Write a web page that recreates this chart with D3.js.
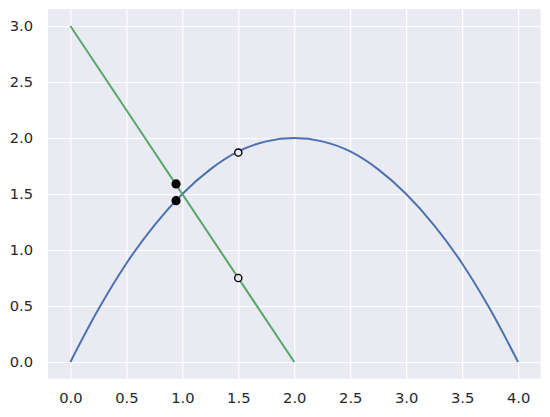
<!DOCTYPE html>
<html>
<head>
<meta charset="utf-8">
<script src="https://cdn.jsdelivr.net/npm/d3@7"></script>
<style>
  body { margin: 0; background: #fff; }
  text { font-family: "DejaVu Sans", sans-serif; font-size: 14.7px; fill: #262626; }
</style>
</head>
<body>
<div id="chart"></div>
<script>
// curve
var curveX = [0, 0.25, 0.5, 0.75, 1.0, 1.25, 1.5, 1.75, 2.0, 2.25, 2.5, 2.75, 3.0, 3.25, 3.5, 3.75, 4.0];
var curveY = [0, 0.47, 0.88, 1.22, 1.5, 1.72, 1.88, 1.97, 2.0, 1.97, 1.88, 1.72, 1.5, 1.22, 0.88, 0.47, 0];

// straight line
var lineX = [0, 2];
var lineY = [3, 0];

// filled markers (near the crossing)
var filledX = [0.944, 0.944];
var filledY = [1.59, 1.44];

// open markers
var openX = [1.5, 1.5];
var openY = [1.87, 0.75];

var xTicks = [0, 0.5, 1, 1.5, 2, 2.5, 3, 3.5, 4];
var yTicks = [0, 0.5, 1, 1.5, 2, 2.5, 3];

const w = 550;
const h = 417;
const mLeft = 48, mRight = 540.5, mTop = 9.2, mBottom = 378.8;

var svg = d3.select("#chart").append("svg")
  .attr("width", w)
  .attr("height", h);

var x = d3.scaleLinear().domain([-0.2, 4.2]).range([mLeft, mRight]);
var y = d3.scaleLinear().domain([-0.15, 3.15]).range([mBottom, mTop]);

// background
svg.append("rect")
  .attr("x", mLeft).attr("y", mTop)
  .attr("width", mRight - mLeft).attr("height", mBottom - mTop)
  .attr("fill", "#EAEAF2");

// grid + tick labels through the axis generators
var xAxis = svg.append("g")
  .attr("transform", "translate(0," + mBottom + ")")
  .call(d3.axisBottom(x).tickValues(xTicks).tickFormat(d3.format(".1f"))
    .tickSize(-(mBottom - mTop)).tickPadding(14));
var yAxis = svg.append("g")
  .attr("transform", "translate(" + mLeft + ",0)")
  .call(d3.axisLeft(y).tickValues(yTicks).tickFormat(d3.format(".1f"))
    .tickSize(-(mRight - mLeft)).tickPadding(15));

[xAxis, yAxis].forEach(function (a) {
  a.select(".domain").remove();
  a.selectAll(".tick line").attr("stroke", "#fff").attr("stroke-width", 1.2);
  a.selectAll(".tick text").attr("fill", "#262626")
    .style("font-family", "'DejaVu Sans', sans-serif").style("font-size", "14.7px");
});

svg.append("clipPath").attr("id", "clip")
  .append("rect").attr("x", mLeft).attr("y", mTop)
  .attr("width", mRight - mLeft).attr("height", mBottom - mTop);

var plot = svg.append("g").attr("clip-path", "url(#clip)");

var line = d3.line()
  .x(function (d) { return x(d[0]); })
  .y(function (d) { return y(d[1]); });

plot.append("path")
  .datum(d3.zip(curveX, curveY))
  .attr("d", line.curve(d3.curveMonotoneX))
  .attr("fill", "none")
  .attr("stroke", "#4C72B0")
  .attr("stroke-width", 2);

plot.append("path")
  .datum(d3.zip(lineX, lineY))
  .attr("d", line.curve(d3.curveLinear))
  .attr("fill", "none")
  .attr("stroke", "#55A868")
  .attr("stroke-width", 2);

plot.selectAll(".filled")
  .data(d3.zip(filledX, filledY))
  .enter().append("circle")
  .attr("class", "filled")
  .attr("cx", function (d) { return x(d[0]); })
  .attr("cy", function (d) { return y(d[1]); })
  .attr("r", 4.6)
  .attr("fill", "#000");

plot.selectAll(".open")
  .data(d3.zip(openX, openY))
  .enter().append("circle")
  .attr("class", "open")
  .attr("cx", function (d) { return x(d[0]); })
  .attr("cy", function (d) { return y(d[1]); })
  .attr("r", 3.6)
  .attr("fill", "#EAEAF2")
  .attr("stroke", "#000")
  .attr("stroke-width", 1.4);
</script>
</body>
</html>
